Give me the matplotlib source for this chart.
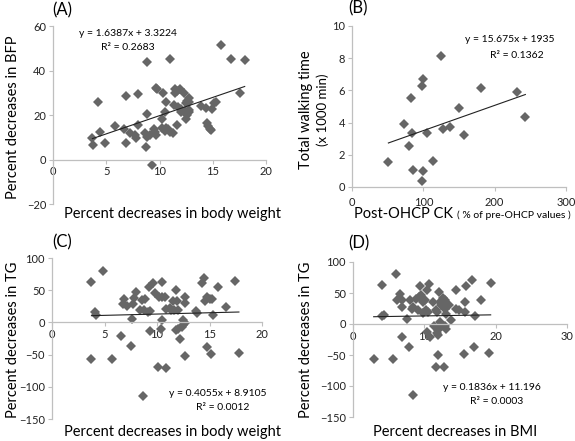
import numpy as np
import matplotlib
matplotlib.use("Agg")
import matplotlib.pyplot as plt

plt.rcParams['font.family'] = ['Lato', 'DejaVu Sans']

# (A) body weight vs BFP
a_x = [15.8, 16.7, 18.0, 8.8, 11.0, 9.7, 9.75, 10.3, 11.5, 11.65,
       11.5, 11.9, 12.3, 6.9, 8.0, 4.2, 10.6, 12.75, 12.6, 12.5,
       12.8, 17.6, 15.3, 15.1, 13.9, 14.4, 14.9, 11.4, 11.7, 12.0,
       12.0, 12.4, 12.75, 12.75, 12.6, 12.5, 8.8, 10.5, 10.25, 11.6,
       10.2, 14.5, 14.6, 14.7, 14.8, 5.8, 6.7, 7.2, 7.7, 7.8,
       8.0, 4.4, 3.7, 3.75, 4.9, 6.9, 8.6, 9.1, 8.8, 9.5,
       9.6, 9.7, 10.5, 10.6, 10.8, 11.0, 11.3, 8.7, 9.3]
a_y = [51.4, 45.3, 44.7, 43.8, 45.3, 32.2, 31.5, 29.7, 31.5, 30.7,
       30.0, 31.5, 29.7, 28.5, 29.5, 26.0, 26.0, 27.7, 26.5, 25.5,
       26.0, 30.0, 26.0, 25.5, 24.0, 23.0, 22.5, 24.7, 23.7, 22.5,
       21.5, 21.7, 22.2, 21.3, 20.2, 18.4, 20.5, 21.3, 18.0, 15.6,
       14.2, 16.2, 15.0, 13.5, 13.2, 15.0, 13.5, 12.0, 11.2, 9.7,
       15.7, 12.4, 9.7, 6.7, 7.2, 7.5, 11.7, 11.2, 10.0, 13.5,
       12.4, 10.9, 12.7, 14.2, 13.5, 12.4, 12.0, 5.7, -2.5]
a_fit = [1.6387, 3.3224]

# (B) CK vs walking time (x 1000 min)
b_x = [124.3, 100, 98.6, 83.2, 180.4, 230.8, 243, 150.5, 72.9, 84.1,
       104.7, 127, 137.9, 157, 80.4, 51, 86, 99.5, 113, 98.6]
b_y = [8.14, 6.70, 6.29, 5.55, 6.12, 5.9, 4.37, 4.9, 3.94, 3.38,
       3.38, 3.59, 3.71, 3.24, 2.56, 1.53, 1.03, 0.97, 1.59, 0.35]
b_fit = [15.675, 1935]

# (C) body weight vs TG
c_x = [4.87, 3.76, 14.5, 14.3, 17.45, 10.45, 9.6, 9.2, 9.8, 8.0,
       11.8, 15.8, 6.85, 6.8, 7.1, 7.8, 7.7, 8.6, 8.85, 10.2,
       10.5, 10.8, 11.5, 11.9, 12.7, 12.7, 14.6, 14.75, 15.0, 15.2,
       16.6, 8.4, 8.75, 9.1, 9.3, 10.9, 11.2, 11.3, 11.6, 12.0,
       13.7, 13.8, 4.1, 4.2, 15.3, 7.6, 10.5, 12.5, 12.7, 12.5,
       12.4, 12.0, 11.8, 10.4, 9.3, 6.6, 12.2, 7.5, 14.75, 3.76,
       5.76, 12.7, 15.1, 17.8, 10.1, 10.9, 8.7]
c_y = [79.6, 62.5, 68.7, 61.5, 64, 63.5, 61, 54.8, 46, 47,
       50.6, 54.8, 36.7, 28, 26, 37.7, 28, 35, 35.6, 40,
       40, 39, 34, 33, 39, 30, 34, 39, 36.7, 36.7,
       23.8, 20, 18.6, 16, 17.6, 21, 22.7, 18.6, 19.6, 19.6,
       17, 15, 15.5, 10.8, 11.4, 5.7, 4, 3, -0.5, -4.6,
       -7, -9.8, -11.4, -10.8, -13.4, -21.7, -25.3, -37.2, -38.2, -56.3,
       -56.3, -52.7, -49.6, -47, -69.2, -70.3, -114]
c_fit = [0.4055, 8.9105]

# (D) BMI vs TG
d_x = [6.0, 4.08, 19.3, 16.7, 15.9, 10.7, 9.4, 10.4, 14.4, 12.1,
       6.6, 6.2, 6.9, 8.0, 6.8, 8.4, 8.9, 9.3, 9.6, 9.75,
       10.1, 9.8, 11.2, 12.2, 12.6, 12.9, 12.4, 13.4, 8.3, 9.1,
       9.75, 10.3, 10.5, 11.6, 11.8, 12.9, 13.1, 14.4, 14.8, 15.7,
       15.7, 18.0, 17.1, 4.08, 4.3, 7.6, 13.8, 12.2, 12.4, 12.2,
       12.9, 13.1, 11.95, 11.8, 11.35, 10.4, 10.8, 6.8, 11.95, 7.9,
       17.0, 15.6, 19.1, 11.95, 2.9, 5.6, 11.6, 12.75, 8.4]
d_y = [80, 63.7, 66.4, 71.2, 62, 64.8, 62, 55, 55.6, 52.4,
       48.7, 38, 39, 38, 28, 27, 40.6, 43.3, 46, 40.6,
       38, 35, 35, 35, 41.7, 39, 30, 31, 24.5, 21.8,
       18, 22.8, 19, 21.8, 20, 24.5, 16.4, 24.5, 21.8, 35,
       19, 39, 12.6, 12.6, 14.8, 7.3, 6.7, 4, -1.3, -5,
       -4, -7.8, -8.9, -14.2, -3.5, -13, -21, -21, -17.5, -36.3,
       -36.3, -48, -46.5, -50.8, -56.2, -56.2, -68.6, -68.6, -114]
d_fit = [0.1836, 11.196]

W, H = 575, 441
fig = plt.figure(figsize=(W / 100, H / 100), dpi=100, facecolor='white')

def box(l, t, r, b):
    return [l / W, 1 - b / H, (r - l) / W, (b - t) / H]

def style(ax, xlim, ylim, xt, yt):
    ax.set_xlim(xlim)
    ax.set_ylim(ylim)
    ax.set_xticks(xt)
    ax.set_yticks(yt)
    for s in ['top', 'right']:
        ax.spines[s].set_visible(False)
    ax.spines['bottom'].set_position(('data', 0))
    for s in ['left', 'bottom']:
        ax.spines[s].set_color('#bfbfbf')
        ax.spines[s].set_linewidth(0.9)
    ax.tick_params(direction='out', length=3, width=0.8, color='#bfbfbf',
                   labelsize=8, labelcolor='#222222', pad=2)

def draw(ax, x, y, fit, scale=1.0):
    ax.plot(x, y, linestyle='none', marker='D', markersize=4.8,
            color='#666666', markeredgewidth=0)
    xs = np.array([min(x), max(x)])
    ax.plot(xs, (fit[0] * xs + fit[1]) / scale, color='#222222', lw=0.8)

def ft(x, y, s, **kw):
    return fig.text(x / W, 1 - y / H, s, **kw)

LAB = 10.5
EQ = 7.5

# (A)
ax = fig.add_axes(box(53, 26, 266, 204))
style(ax, (0, 20), (-20, 60), [0, 5, 10, 15, 20], [-20, 0, 20, 40, 60])
draw(ax, a_x, a_y, a_fit)
ft(128, 34, "y = 1.6387x + 3.3224", fontsize=EQ, ha='center', va='center')
ft(128, 48, "R² = 0.2683", fontsize=EQ, ha='center', va='center')
ft(52, 10, "(A)", fontsize=12, ha='left', va='center')
ft(13, 117, "Percent decreases in BFP", fontsize=LAB, rotation=90, ha='center', va='center')
ft(172, 214, "Percent decreases in body weight", fontsize=LAB, ha='center', va='center')

# (B)
ax = fig.add_axes(box(352, 26, 566, 187))
style(ax, (0, 300), (0, 10), [0, 100, 200, 300], [0, 2, 4, 6, 8, 10])
ax.tick_params(axis='x', pad=4)
draw(ax, b_x, b_y, b_fit, scale=1000)
ft(510, 40, "y = 15.675x + 1935", fontsize=EQ, ha='center', va='center')
ft(517, 55, "R² = 0.1362", fontsize=EQ, ha='center', va='center')
ft(348, 8, "(B)", fontsize=12, ha='left', va='center')
ft(306, 110, "Total walking time", fontsize=LAB, rotation=90, ha='center', va='center')
ft(323, 110, "(x 1000 min)", fontsize=9.5, rotation=90, ha='center', va='center')
t1 = ft(354, 214, "Post-OHCP CK", fontsize=LAB, ha='left', va='center')
fig.canvas.draw()
x_end = t1.get_window_extent().x1
ft(x_end + 4, 215, "( % of pre-OHCP values )", fontsize=7.5, ha='left', va='center')

# (C)
ax = fig.add_axes(box(52, 258, 262, 419))
style(ax, (0, 20), (-150, 100), [0, 5, 10, 15, 20], [-150, -100, -50, 0, 50, 100])
draw(ax, c_x, c_y, c_fit)
ft(218, 394, "y = 0.4055x + 8.9105", fontsize=EQ, ha='center', va='center')
ft(223, 408, "R² = 0.0012", fontsize=EQ, ha='center', va='center')
ft(52, 242, "(C)", fontsize=12, ha='left', va='center')
ft(13, 340, "Percent decreases in TG", fontsize=LAB, rotation=90, ha='center', va='center')
ft(172, 432, "Percent decreases in body weight", fontsize=LAB, ha='center', va='center')

# (D)
ax = fig.add_axes(box(353, 262, 567, 417))
style(ax, (0, 30), (-150, 100), [0, 10, 20, 30], [-150, -100, -50, 0, 50, 100])
draw(ax, d_x, d_y, d_fit)
ft(492, 387, "y = 0.1836x + 11.196", fontsize=EQ, ha='center', va='center')
ft(497, 401, "R² = 0.0003", fontsize=EQ, ha='center', va='center')
ft(348, 243, "(D)", fontsize=12, ha='left', va='center')
ft(306, 340, "Percent decreases in TG", fontsize=LAB, rotation=90, ha='center', va='center')
ft(455, 432, "Percent decreases in BMI", fontsize=LAB, ha='center', va='center')

fig.savefig('out.png', dpi=100, facecolor='white')
